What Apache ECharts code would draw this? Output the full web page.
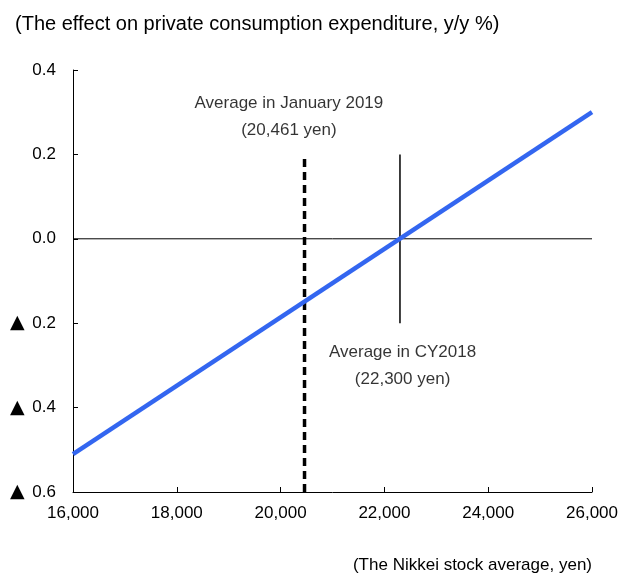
<!DOCTYPE html>
<html>
<head>
<meta charset="utf-8">
<script src="https://cdn.jsdelivr.net/npm/echarts@6/dist/echarts.min.js"></script>
<style>
  html, body { margin: 0; padding: 0; background: #fff; }
  #chart { width: 623px; height: 581px; }
</style>
</head>
<body>
<div id="chart"></div>
<script>
// Nikkei average (yen) vs effect on private consumption (y/y %)
const nikkeiLevels = [16000, 26000];
const consumptionEffect = [-0.51, 0.30];

// reference levels
const janAvg = 20461;
const janRange = [-0.6, 0.2];
const cyAvg = 22300;
const cyRange = [-0.2, 0.2];

const notes = [
  { pos: [20160, 0.29], text: 'Average in January 2019\n(20,461 yen)' },
  { pos: [22350, -0.30], text: 'Average in CY2018\n(22,300 yen)' }
];

const font = '"Liberation Sans Narrow", "Arial Narrow", "Liberation Sans", Arial, sans-serif';

const chart = echarts.init(document.getElementById('chart'));
chart.setOption({
  animation: false,
  textStyle: { fontFamily: font },
  title: {
    text: '(The effect on private consumption expenditure, y/y %)',
    left: 10,
    top: 9,
    textStyle: { fontFamily: font, fontSize: 20, fontWeight: 'normal', color: '#000' }
  },
  grid: { left: 73, right: 31, top: 70, bottom: 89 },
  xAxis: {
    type: 'value',
    min: 16000,
    max: 26000,
    interval: 2000,
    name: '(The Nikkei stock average, yen)',
    nameLocation: 'end',
    nameGap: 0,
    nameTextStyle: { fontFamily: font, fontSize: 17, color: '#000', align: 'right', verticalAlign: 'top', padding: [65, 0, 0, 0] },
    axisLine: { onZero: false, lineStyle: { color: '#000', width: 1 } },
    axisTick: { inside: true, length: 5, lineStyle: { color: '#000' } },
    axisLabel: {
      color: '#000', fontSize: 17, margin: 13,
      formatter: v => v.toLocaleString('en-US')
    },
    splitLine: { show: false }
  },
  yAxis: {
    type: 'value',
    min: -0.6,
    max: 0.4,
    interval: 0.2,
    axisLine: { show: true, lineStyle: { color: '#000', width: 1 } },
    axisTick: { show: true, inside: true, length: 5, lineStyle: { color: '#000' } },
    axisLabel: {
      color: '#000', fontSize: 17, margin: 17,
      formatter: v => {
        const r = Math.round(v * 10) / 10;
        return r < 0 ? '{tri|▲} ' + Math.abs(r).toFixed(1) : r.toFixed(1);
      },
      rich: {
        tri: { fontFamily: '"DejaVu Sans", sans-serif', fontSize: 19, color: '#000', padding: [0, 3, 0, 0] }
      }
    },
    splitLine: { show: false }
  },
  series: [
    {
      name: 'zero',
      type: 'line',
      data: [[16000, 0], [26000, 0]],
      symbol: 'none',
      lineStyle: { color: '#000', width: 1 },
      silent: true
    },
    {
      name: 'jan',
      type: 'line',
      data: janRange.map(y => [janAvg, y]),
      symbol: 'none',
      lineStyle: { color: '#000', width: 3.5, type: [8, 5] },
      silent: true
    },
    {
      name: 'cy',
      type: 'line',
      data: cyRange.map(y => [cyAvg, y]),
      symbol: 'none',
      lineStyle: { color: '#000', width: 1.5 },
      silent: true
    },
    {
      name: 'effect',
      type: 'line',
      data: nikkeiLevels.map((x, i) => [x, consumptionEffect[i]]),
      symbol: 'none',
      lineStyle: { color: '#3366f0', width: 4.5 },
      z: 5
    },
    {
      name: 'notes',
      type: 'scatter',
      symbolSize: 0,
      data: notes.map(n => ({ value: n.pos, label: { formatter: n.text } })),
      label: {
        show: true,
        position: 'inside',
        color: '#000',
        fontFamily: font,
        fontSize: 17,
        lineHeight: 27,
        align: 'center'
      },
      silent: true
    }
  ]
});
</script>
</body>
</html>
